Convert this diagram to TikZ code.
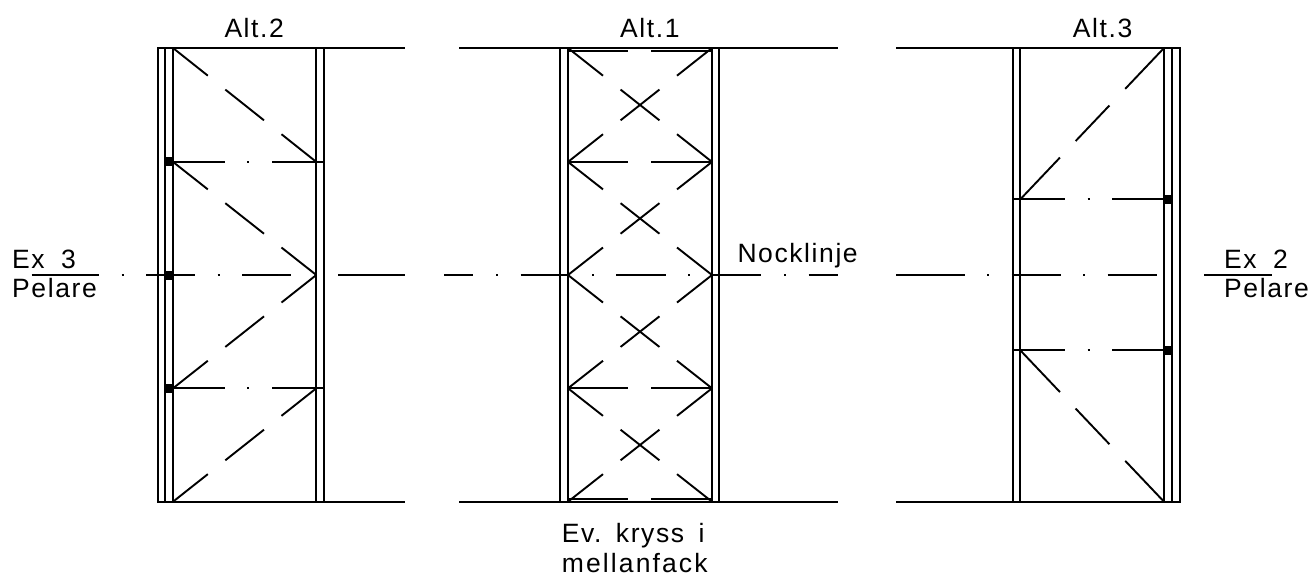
\documentclass[tikz,border=0pt]{standalone}
\usepackage{fontspec}
\setmainfont[LetterSpace=6]{Liberation Sans}
\newfontfamily\melfont[LetterSpace=8]{Liberation Sans}
\usetikzlibrary{calc}
\tikzset{
  wall/.style={line width=1.9pt},
  wallthick/.style={line width=2.5pt},
  beam/.style={line width=2.1pt},
  brace/.style={line width=1.9pt},
  cdot/.style={line width=1.9pt},
  plate/.style={fill=black,draw=none},
  lab/.style={anchor=base west,inner sep=0pt,font=\fontsize{26.5}{26.5}\selectfont},
}
% dashed diagonal between two named coordinates: long dash - gap - long dash - gap - long dash
\newcommand{\dashdiag}[2]{%
  \draw[brace] (#1) -- ($(#1)!0.243!(#2)$);
  \draw[brace] ($(#1)!0.365!(#2)$) -- ($(#1)!0.635!(#2)$);
  \draw[brace] ($(#1)!0.757!(#2)$) -- (#2);}
\newcommand{\dashdiagB}[2]{%
  \draw[brace] (#1) -- ($(#1)!0.276!(#2)$);
  \draw[brace] ($(#1)!0.385!(#2)$) -- ($(#1)!0.62!(#2)$);
  \draw[brace] ($(#1)!0.73!(#2)$) -- (#2);}
\newcommand{\cdotmark}[2]{\draw[cdot] (#1-1,#2) -- (#1+1,#2);}
\begin{document}
\begin{tikzpicture}[x=1pt,y=-1pt]
\useasboundingbox (0,0) rectangle (1311,575);
\def\yT{48} \def\yA{161.9} \def\yM{275} \def\yB{388.3} \def\yE{501.7}
% ---------- labels ----------
\node[lab] (alt2) at (224.3,37.3) {Alt.2};
\node[lab] (alt1) at (620,37.3) {Alt.1};
\node[lab] (alt3) at (1072.7,37.3) {Alt.3};
\node[lab] (ex3) at (12,268.3) {Ex\hspace{0.62em}3};
\node[lab] (pel3) at (12,297.3) {Pelare};
\node[lab] (ex2) at (1224,268.3) {Ex\hspace{0.62em}2};
\node[lab] (pel2) at (1224,297.3) {Pelare};
\node[lab] (nock) at (737.3,262.3) {Nocklinje};
\node[lab] (ev) at (561.7,542.7) {Ev.\hspace{0.55em}kryss\hspace{0.55em}i};
\node[lab] (mel) at (561.7,572) {\melfont mellanfack};
% ---------- Alt.2 ----------
\foreach \x in {157.7,165.3,173,316.3,324} {\draw[wall] (\x,\yT) -- (\x,\yE);}
\draw[beam] (157,\yT) -- (405,\yT);
\draw[beam] (157,\yE) -- (405,\yE);
\foreach \y/\n in {\yT/0,\yA/1,\yM/2,\yB/3,\yE/4} {
  \coordinate (bl\n) at (173,\y);
  \coordinate (br\n) at (316.3,\y);
}
\dashdiag{bl0}{br1}
\dashdiag{bl1}{br2}
\dashdiag{bl3}{br2}
\dashdiag{bl4}{br3}
\foreach \y in {\yA,\yB} {
  \draw[brace] (173,\y) -- (225.3,\y);
  \cdotmark{248.3}{\y}
  \draw[brace] (272,\y) -- (324,\y);
  \fill[plate] (165,\y-4.5) rectangle (173.5,\y+4.5);
}
\fill[plate] (165,\yM-4.5) rectangle (173.5,\yM+4.5);
% ---------- Alt.1 ----------
\foreach \x in {560.3,719} {\draw[wall] (\x,\yT) -- (\x,\yE);}
\foreach \x in {568,712} {\draw[wallthick] (\x,\yT) -- (\x,\yE);}
\draw[beam] (459.3,\yT) -- (837.7,\yT);
\draw[beam] (459.3,\yE) -- (837.7,\yE);
\foreach \y/\n in {\yT/0,\yA/1,\yM/2,\yB/3,\yE/4} {
  \coordinate (cl\n) at (568,\y);
  \coordinate (cr\n) at (712,\y);
}
\dashdiag{cl0}{cr1}\dashdiag{cr0}{cl1}
\dashdiag{cl1}{cr2}\dashdiag{cr1}{cl2}
\dashdiag{cl2}{cr3}\dashdiag{cr2}{cl3}
\dashdiag{cl3}{cr4}\dashdiag{cr3}{cl4}
\foreach \y in {51.3,\yA,\yB,499} {
  \draw[brace] (568,\y) -- (628.3,\y);
  \draw[brace] (651.3,\y) -- (712,\y);
}
% ---------- Alt.3 ----------
\foreach \x in {1013,1020.3,1164,1171.7,1179.7} {\draw[wall] (\x,\yT) -- (\x,\yE);}
\draw[beam] (896,\yT) -- (1180.5,\yT);
\draw[beam] (896,\yE) -- (1180.5,\yE);
\coordinate (dl1) at (1020.3,199.3);
\coordinate (dl2) at (1020.3,350.3);
\coordinate (dr0) at (1164,\yT);
\coordinate (dr3) at (1164,\yE);
\dashdiagB{dl1}{dr0}
\dashdiagB{dl2}{dr3}
\foreach \y in {199.3,350.3} {
  \draw[brace] (1013,\y) -- (1065.3,\y);
  \cdotmark{1088.7}{\y}
  \draw[brace] (1112,\y) -- (1164,\y);
  \fill[plate] (1163.5,\y-4.5) rectangle (1172,\y+4.5);
}
% ---------- centre line ----------
\foreach \a/\b in {31.7/99,146/195.3,242/291,338/405,444/473.3,520.7/569.3,616.3/665.7,712.3/761.3,808.7/837.7,896/964.7,1011.7/1061,1107.7/1156.7,1204/1272.3} {
  \draw[beam] (\a,\yM) -- (\b,\yM);
}
\foreach \x in {122.7,218.7,497,593,689,785,988,1084,1180} {
  \cdotmark{\x}{\yM}
}
\end{tikzpicture}
\end{document}
